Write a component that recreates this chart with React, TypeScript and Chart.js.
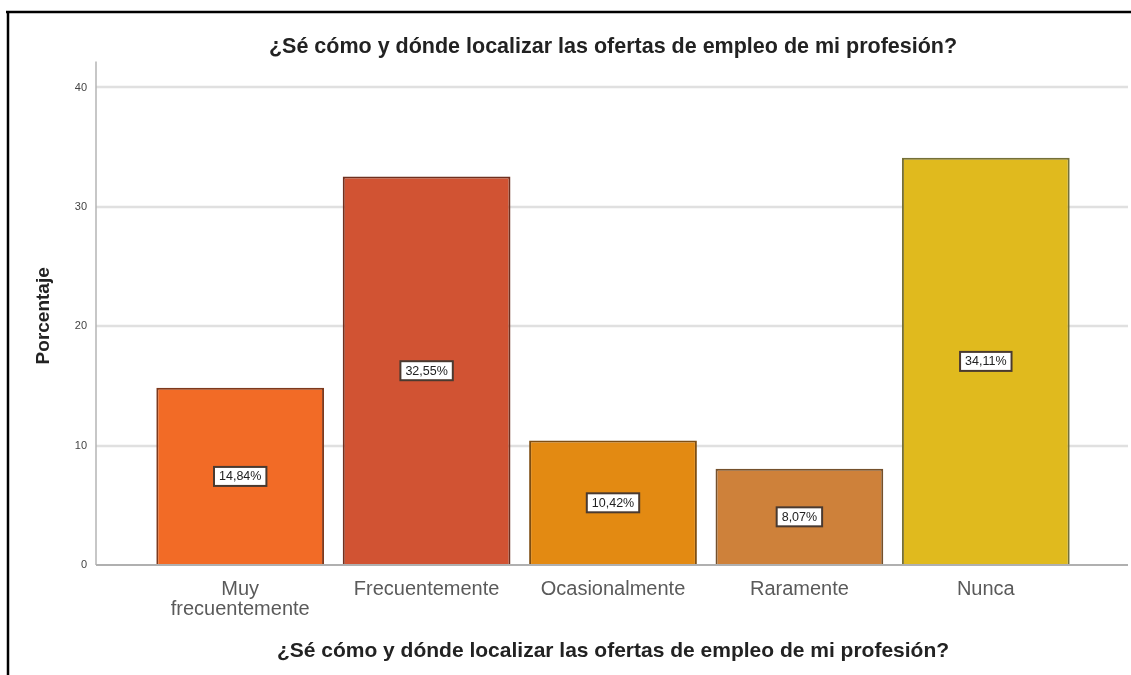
import React, { useEffect, useRef } from "react";
import { Chart, registerables } from "chart.js";

Chart.register(...registerables);

const chartTitle = "¿Sé cómo y dónde localizar las ofertas de empleo de mi profesión?";
const xAxisTitle = "¿Sé cómo y dónde localizar las ofertas de empleo de mi profesión?";
const yAxisTitle = "Porcentaje";
const categories: (string | string[])[] = [
  ["Muy", "frecuentemente"],
  "Frecuentemente",
  "Ocasionalmente",
  "Raramente",
  "Nunca",
];
const percentages = [14.84, 32.55, 10.42, 8.07, 34.11];
const barColors = ["#F26B26", "#D15333", "#E38A12", "#CE813A", "#E0BA1E"];
const barBorders = ["#7E391C", "#70301F", "#7E4E12", "#74502C", "#757038"];
const yTicks = [0, 10, 20, 30, 40];

const FONT = "'Liberation Sans', Arial, sans-serif";

const decorPlugin = {
  id: "decor",
  beforeDatasetsDraw(chart: any) {
    const { ctx, chartArea, scales } = chart;
    const y = scales.y;
    const left = chartArea.left - 51;
    const right = chartArea.right + 49;
    ctx.save();
    ctx.strokeStyle = "#E0E0E0";
    ctx.lineWidth = 2.5;
    yTicks.forEach((v) => {
      if (v === 0) return;
      const py = Math.round(y.getPixelForValue(v));
      ctx.beginPath();
      ctx.moveTo(left, py);
      ctx.lineTo(right, py);
      ctx.stroke();
    });
    ctx.strokeStyle = "#B4B4B4";
    ctx.lineWidth = 1.5;
    const base = y.getPixelForValue(0);
    ctx.beginPath();
    ctx.moveTo(left, chartArea.top - 5);
    ctx.lineTo(left, base);
    ctx.stroke();
    ctx.restore();
  },
  afterDatasetsDraw(chart: any) {
    const { ctx, chartArea, scales } = chart;
    const y = scales.y;
    const left = chartArea.left - 51;
    const right = chartArea.right + 49;
    const base = y.getPixelForValue(0);
    ctx.save();
    ctx.strokeStyle = "#B0B0B0";
    ctx.lineWidth = 2;
    ctx.beginPath();
    ctx.moveTo(left, base);
    ctx.lineTo(right, base);
    ctx.stroke();
    const meta = chart.getDatasetMeta(0);
    ctx.font = `12.5px ${FONT}`;
    ctx.textAlign = "center";
    ctx.textBaseline = "middle";
    meta.data.forEach((bar: any, i: number) => {
      const txt = percentages[i].toFixed(2).replace(".", ",") + "%";
      const cx = bar.x;
      const cy = (bar.y + bar.base) / 2;
      const w = ctx.measureText(txt).width + 10;
      const h = 19;
      ctx.fillStyle = "#FFFFFF";
      ctx.fillRect(cx - w / 2, cy - h / 2, w, h);
      ctx.strokeStyle = "#4A3A30";
      ctx.lineWidth = 2;
      ctx.strokeRect(cx - w / 2, cy - h / 2, w, h);
      ctx.fillStyle = "#222222";
      ctx.fillText(txt, cx, cy + 0.5);
    });
    ctx.restore();
  },
  afterDraw(chart: any) {
    const { ctx } = chart;
    ctx.save();
    ctx.strokeStyle = "#000000";
    ctx.lineWidth = 2.5;
    ctx.beginPath();
    ctx.moveTo(6, 12);
    ctx.lineTo(chart.width, 12);
    ctx.moveTo(8, 12);
    ctx.lineTo(8, chart.height);
    ctx.stroke();
    ctx.restore();
  },
};

export default function App() {
  const ref = useRef<HTMLCanvasElement>(null);
  useEffect(() => {
    if (!ref.current) return;
    const chart = new Chart(ref.current, {
      type: "bar",
      data: {
        labels: categories as any,
        datasets: [
          {
            data: percentages,
            backgroundColor: barColors,
            borderColor: barBorders,
            borderWidth: 2,
            barPercentage: 0.9,
            categoryPercentage: 1,
          },
        ],
      },
      options: {
        animation: false,
        responsive: false,
        layout: { padding: { left: 0, right: 52, top: 0, bottom: 0 } },
        plugins: {
          legend: { display: false },
          tooltip: { enabled: false },
          title: {
            display: true,
            fullSize: false,
            text: chartTitle,
            color: "#222222",
            font: { family: FONT, size: 21.5, weight: "bold" },
            padding: { top: 27, bottom: 7 },
          },
        },
        scales: {
          x: {
            grid: { display: false, drawTicks: false },
            border: { display: false },
            ticks: {
              color: "#5A5A5A",
              font: { family: FONT, size: 20, lineHeight: 1.0 },
              padding: 14,
              maxRotation: 0,
              autoSkip: false,
            },
            title: {
              display: true,
              text: xAxisTitle,
              color: "#222222",
              font: { family: FONT, size: 21, weight: "bold" },
              padding: { top: 0, bottom: 11 },
            },
            afterFit: (scale: any) => {
              scale.height = 110;
            },
          },
          y: {
            min: 0,
            max: 41.75,
            grid: { display: false, drawTicks: false },
            border: { display: false },
            ticks: {
              stepSize: 10,
              includeBounds: false,
              color: "#444444",
              font: { family: FONT, size: 11 },
              padding: 60,
            },
            title: {
              display: true,
              text: yAxisTitle,
              color: "#222222",
              font: { family: FONT, size: 19, weight: "bold" },
              padding: { top: 32, bottom: 0 },
            },
            afterFit: (scale: any) => {
              scale.width = 147;
            },
          },
        },
      },
      plugins: [decorPlugin],
    } as any);
    return () => chart.destroy();
  }, []);
  return (
    <div style={{ position: "absolute", left: 0, top: 0, width: 1131, height: 675, background: "#FFFFFF" }}>
      <canvas ref={ref} width={1131} height={675} style={{ display: "block" }} />
    </div>
  );
}
